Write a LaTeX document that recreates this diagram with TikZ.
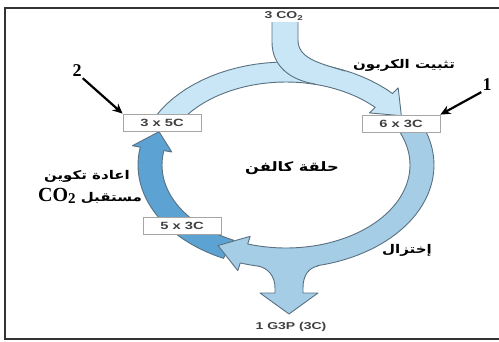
\documentclass[tikz,border=0pt]{standalone}
\usepackage{fontspec}
\setmainfont{Liberation Sans}
\newfontfamily\arabicfont[Script=Arabic,FakeStretch=1.25]{DejaVu Sans}
\newfontfamily\lblfont[FakeStretch=1.4]{Liberation Sans}
\newfontfamily\cofont{Liberation Serif}
\TeXXeTstate=1
\usetikzlibrary{arrows.meta}

\definecolor{topblue}{RGB}{200,230,245}
\definecolor{rightblue}{RGB}{165,205,230}
\definecolor{leftblue}{RGB}{92,162,210}
\definecolor{edgegray}{RGB}{90,112,128}

\tikzset{
  ring/.style={draw=edgegray, line width=0.9pt, line join=round},
  cbox/.style={draw=gray!70, fill=white, line width=0.8pt, minimum width=78pt,
    minimum height=17pt, inner sep=0pt, font=\lblfont\bfseries\fontsize{10.5}{10.5}\selectfont, text=black!75},
  smalllbl/.style={font=\lblfont\bfseries\fontsize{10}{10}\selectfont, text=black!75},
  arlbl/.style={font=\arabicfont\bfseries\fontsize{12}{12}\selectfont, inner sep=1pt},
  numlbl/.style={font=\cofont\bfseries\fontsize{18}{18}\selectfont, inner sep=1pt},
  callout/.style={-{Stealth[length=10pt,width=9pt]}, line width=2.2pt},
}

\begin{document}
\begin{tikzpicture}[x=1pt,y=-1pt]
  \useasboundingbox (0,0) rectangle (499,341);
  \draw[line width=1.6pt, black!80] (499,8) -- (5,8) -- (5,339) -- (499,339);

  % the cycle, drawn on an ellipse round the centre
  \begin{scope}[shift={(286,165)}]
    % regeneration (left)
    \filldraw[ring, fill=leftblue] plot[domain=115:190, samples=30] (\x:148 and 103)
      -- (190:156 and 111) -- (201:136 and 93) -- (190:116 and 75)
      -- plot[domain=190:115, samples=30] (\x:124 and 83) -- cycle;
    % reduction (right and bottom)
    \filldraw[ring, fill=rightblue] plot[domain=-27:108, samples=50] (\x:148 and 103)
      -- (108:156 and 111) -- (120:136 and 93) -- (108:116 and 75)
      -- plot[domain=108:-27, samples=50] (\x:124 and 83) -- cycle;
  \end{scope}

  % G3P leaving the cycle
  \fill[rightblue] (258,266) .. controls (268,268) and (275,276) .. (275,288)
    -- (275,293) -- (260,293) -- (289,314) -- (318,293) -- (303,293) -- (303,288)
    .. controls (303,276) and (308,268) .. (318,266) -- (300,256) -- (276,256) -- cycle;
  \draw[ring] (258,266) .. controls (268,268) and (275,276) .. (275,288)
    -- (275,293) -- (260,293) -- (289,314) -- (318,293) -- (303,293) -- (303,288)
    .. controls (303,276) and (308,268) .. (318,266);

  \begin{scope}[shift={(286,165)}]
    % fixation (top)
    \filldraw[ring, fill=topblue] plot[domain=205:316, samples=30] (\x:148 and 103)
      -- (316:156 and 111) -- (328:136 and 93) -- (316:116 and 75)
      -- plot[domain=316:205, samples=30] (\x:124 and 83) -- cycle;
  \end{scope}

  % CO2 coming in
  \fill[topblue] (272,22) -- (272,42) .. controls (272,66) and (290,80) .. (315,84)
    -- (345,71) .. controls (318,63) and (298,58) .. (298,40) -- (298,22) -- cycle;
  \draw[ring] (272,22) -- (272,42) .. controls (272,66) and (290,80) .. (315,84);
  \draw[ring] (298,22) -- (298,40) .. controls (298,58) and (318,63) .. (345,71);

  \node[smalllbl] (co2in) at (284,16) {3 CO\textsubscript{2}};
  \node[smalllbl] (g3p) at (291,327) {1 G3P (3C)};

  \node[cbox] (b35) at (162,122.5) {3 x 5C};
  \node[cbox] (b63) at (401,123.5) {6 x 3C};
  \node[cbox] (b53) at (182,225.5) {5 x 3C};

  \node[arlbl] (fixlbl) at (404,65) {\beginR تثبيت الكربون\endR};
  \node[arlbl] (redlbl) at (407,250) {\beginR إختزال\endR};
  \node[arlbl, font=\arabicfont\bfseries\fontsize{13}{13}\selectfont] (calvin) at (292,168) {\beginR حلقة كالفن\endR};
  \node[arlbl, anchor=east] (regen1) at (131,176) {\beginR اعادة تكوين\endR};
  \node[arlbl, anchor=east] (regen2) at (143,196)
    {\beginR مستقبل \beginL{\cofont\fontsize{20}{20}\selectfont CO\raisebox{-2pt}{\fontsize{15}{15}\selectfont 2}}\endL\endR};

  \node[numlbl] (n1) at (487,85) {1};
  \node[numlbl] (n2) at (77,71) {2};
  \draw[callout] (n1.south west) -- (b63.north east);
  \draw[callout] (n2.south east) -- (b35.north west);
\end{tikzpicture}
\end{document}
